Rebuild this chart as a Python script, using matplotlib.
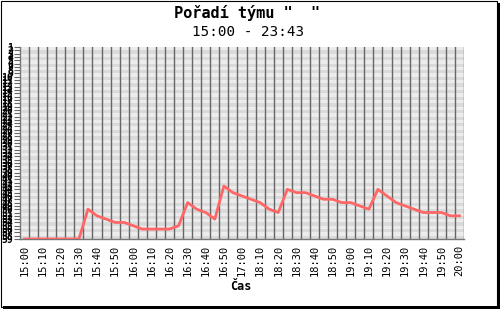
import matplotlib
matplotlib.use("Agg")
import matplotlib.pyplot as plt
from matplotlib.patches import Rectangle

W, H = 500, 309

# rank of the team every 5 minutes (1 = best, shown at the top)
ranks = [59, 59, 59, 59, 59, 59, 59, 50, 52, 53, 54, 54, 55, 56, 56, 56, 56, 55,
         48, 50, 51, 53, 43, 45, 46, 47, 48, 50, 51, 44, 45, 45, 46, 47, 47, 48,
         48, 49, 50, 44, 46, 48, 49, 50, 51, 51, 51, 52, 52]
n_teams = 59
time_labels = ["15:00", "15:10", "15:20", "15:30", "15:40", "15:50", "16:00",
               "16:10", "16:20", "16:30", "16:40", "16:50", "17:00", "18:10",
               "18:20", "18:30", "18:40", "18:50", "19:00", "19:10", "19:20",
               "19:30", "19:40", "19:50", "20:00"]

MONO = "DejaVu Sans Mono"


def px(x, y):
    return x / W, 1 - y / H


fig = plt.figure(figsize=(W / 100, H / 100), dpi=100)
fig.patch.set_facecolor("white")

# plot area in pixels: left 20, right 464, top 47, bottom 239
ax = fig.add_axes([20 / W, (H - 239) / H, 444 / W, 192 / H])
ax.set_facecolor("#eeeeee")

n = len(ranks)
ax.set_xlim(-0.5, n - 0.5)
ax.set_ylim(n_teams, 1)

# alternating horizontal bands
for r in range(1, n_teams):
    ax.axhspan(r, r + 1, color="#ececec" if r % 2 else "#dadada", lw=0, zorder=0)

# vertical grid between the points
for i in range(n):
    ax.axvline(i + 0.5, color="#666666", lw=1.0, zorder=1)

ax.plot(range(n), ranks, color="#ff6666", lw=2.0, zorder=3)

ax.set_xticks(range(0, n, 2))
ax.set_xticklabels(time_labels, rotation=90, fontsize=7.5, family=MONO)
ax.tick_params(axis="x", length=0, pad=4)

ax.set_yticks(range(1, n_teams + 1))
ax.set_yticklabels([str(r) for r in range(1, n_teams + 1)], fontsize=7,
                   family=MONO, fontweight="bold")
ax.tick_params(axis="y", length=4, width=0.8, color="#666666", pad=1)

for s in ["top", "right"]:
    ax.spines[s].set_visible(False)
for s in ["left", "bottom"]:
    ax.spines[s].set_color("#777777")
    ax.spines[s].set_linewidth(1)

fig.text(*px(247, 13), 'Pořadí týmu "  "', ha="center", va="center",
         fontsize=11, fontweight="bold", family=MONO)
fig.text(*px(248, 32), "15:00 - 23:43", ha="center", va="center",
         fontsize=10.3, family=MONO)
fig.text(*px(241, 286), "Čas", ha="center", va="center",
         fontsize=8.5, fontweight="bold", family=MONO)

# frame with shadow on the right and bottom
fig.add_artist(Rectangle(px(0.5, 306.5), 496.5 / W, 306 / H, transform=fig.transFigure,
                         fill=False, edgecolor="black", lw=0.8))
fig.add_artist(Rectangle(px(497, 309), 3 / W, 306 / H, transform=fig.transFigure,
                         facecolor="black", lw=0))
fig.add_artist(Rectangle(px(3, 309), 497 / W, 3 / H, transform=fig.transFigure,
                         facecolor="black", lw=0))

fig.savefig("out.png", dpi=100)
